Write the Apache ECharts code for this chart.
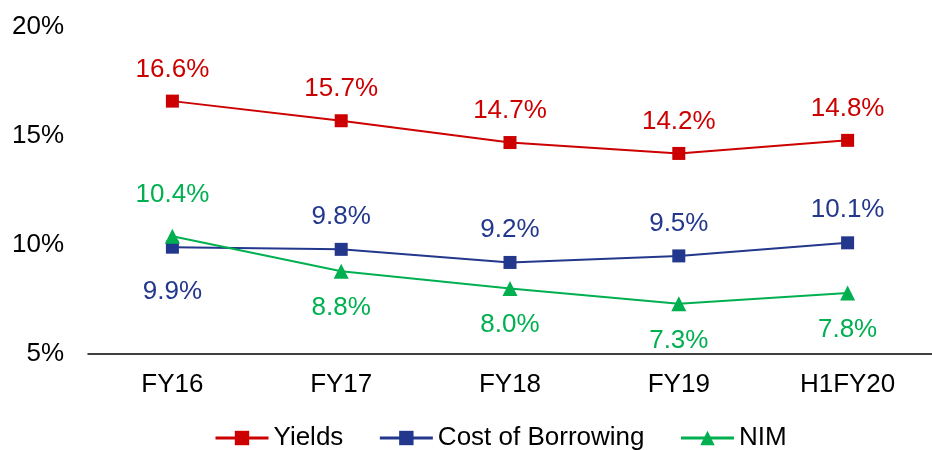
<!DOCTYPE html>
<html>
<head>
<meta charset="utf-8">
<script src="https://cdn.jsdelivr.net/npm/echarts@6/dist/echarts.min.js"></script>
<style>
  html, body { margin: 0; padding: 0; background: #fff; }
  #main { width: 932px; height: 450px; }
</style>
</head>
<body>
<div id="main"></div>
<script>
// data
var categories = ['FY16', 'FY17', 'FY18', 'FY19', 'H1FY20'];
var yields = [16.6, 15.7, 14.7, 14.2, 14.8];
var costOfBorrowing = [9.9, 9.8, 9.2, 9.5, 10.1];
var nim = [10.4, 8.8, 8.0, 7.3, 7.8];
// label side per point
var cobLabelPos = ['bottom', 'top', 'top', 'top', 'top'];
var nimLabelPos = ['top', 'bottom', 'bottom', 'bottom', 'bottom'];
var cobLabelGap = [25, 13, 13, 13, 13];
var nimLabelGap = [21, 16, 16, 16, 16];

var font = 'Liberation Sans, Arial, sans-serif';
var fs = 26;

function withLabels(values, positions, gaps) {
    return values.map(function (v, i) {
        return { value: v, label: { position: positions[i], distance: gaps[i] } };
    });
}

function pct(p) {
    return p.value.toFixed(1) + '%';
}

var myChart = echarts.init(document.getElementById('main'));
var option = {
    animation: false,
    textStyle: { fontFamily: font },
    grid: { left: 88, right: 0, top: 27, bottom: 96 },
    legend: {
        top: 420,
        left: 209,
        itemGap: 35,
        itemWidth: 53,
        itemHeight: 18,
        lineStyle: { width: 3 },
        textStyle: { fontSize: fs, color: '#000', fontFamily: font },
        data: ['Yields', 'Cost of Borrowing', 'NIM']
    },
    xAxis: {
        type: 'category',
        data: categories,
        axisLine: { lineStyle: { color: '#000', width: 1.5 } },
        axisTick: { show: false },
        axisLabel: { fontSize: fs, color: '#000', margin: 18, fontFamily: font }
    },
    yAxis: {
        type: 'value',
        min: 5,
        max: 20,
        interval: 5,
        axisLine: { show: false },
        axisTick: { show: false },
        splitLine: { show: false },
        axisLabel: { fontSize: fs, color: '#000', margin: 24, formatter: '{value}%', fontFamily: font }
    },
    series: [
        {
            name: 'Yields',
            type: 'line',
            data: yields,
            symbol: 'rect',
            symbolSize: 13,
            color: '#CC0000',
            lineStyle: { width: 2 },
            label: { show: true, position: 'top', distance: 12, fontSize: fs, color: '#CC0000', formatter: pct, fontFamily: font }
        },
        {
            name: 'Cost of Borrowing',
            type: 'line',
            data: withLabels(costOfBorrowing, cobLabelPos, cobLabelGap),
            symbol: 'rect',
            symbolSize: 13,
            color: '#23378C',
            lineStyle: { width: 2 },
            label: { show: true, fontSize: fs, color: '#23378C', formatter: pct, fontFamily: font }
        },
        {
            name: 'NIM',
            type: 'line',
            data: withLabels(nim, nimLabelPos, nimLabelGap),
            symbol: 'triangle',
            symbolSize: 15,
            color: '#00B050',
            lineStyle: { width: 2 },
            label: { show: true, fontSize: fs, color: '#00B050', formatter: pct, fontFamily: font }
        }
    ]
};
myChart.setOption(option);
</script>
</body>
</html>
